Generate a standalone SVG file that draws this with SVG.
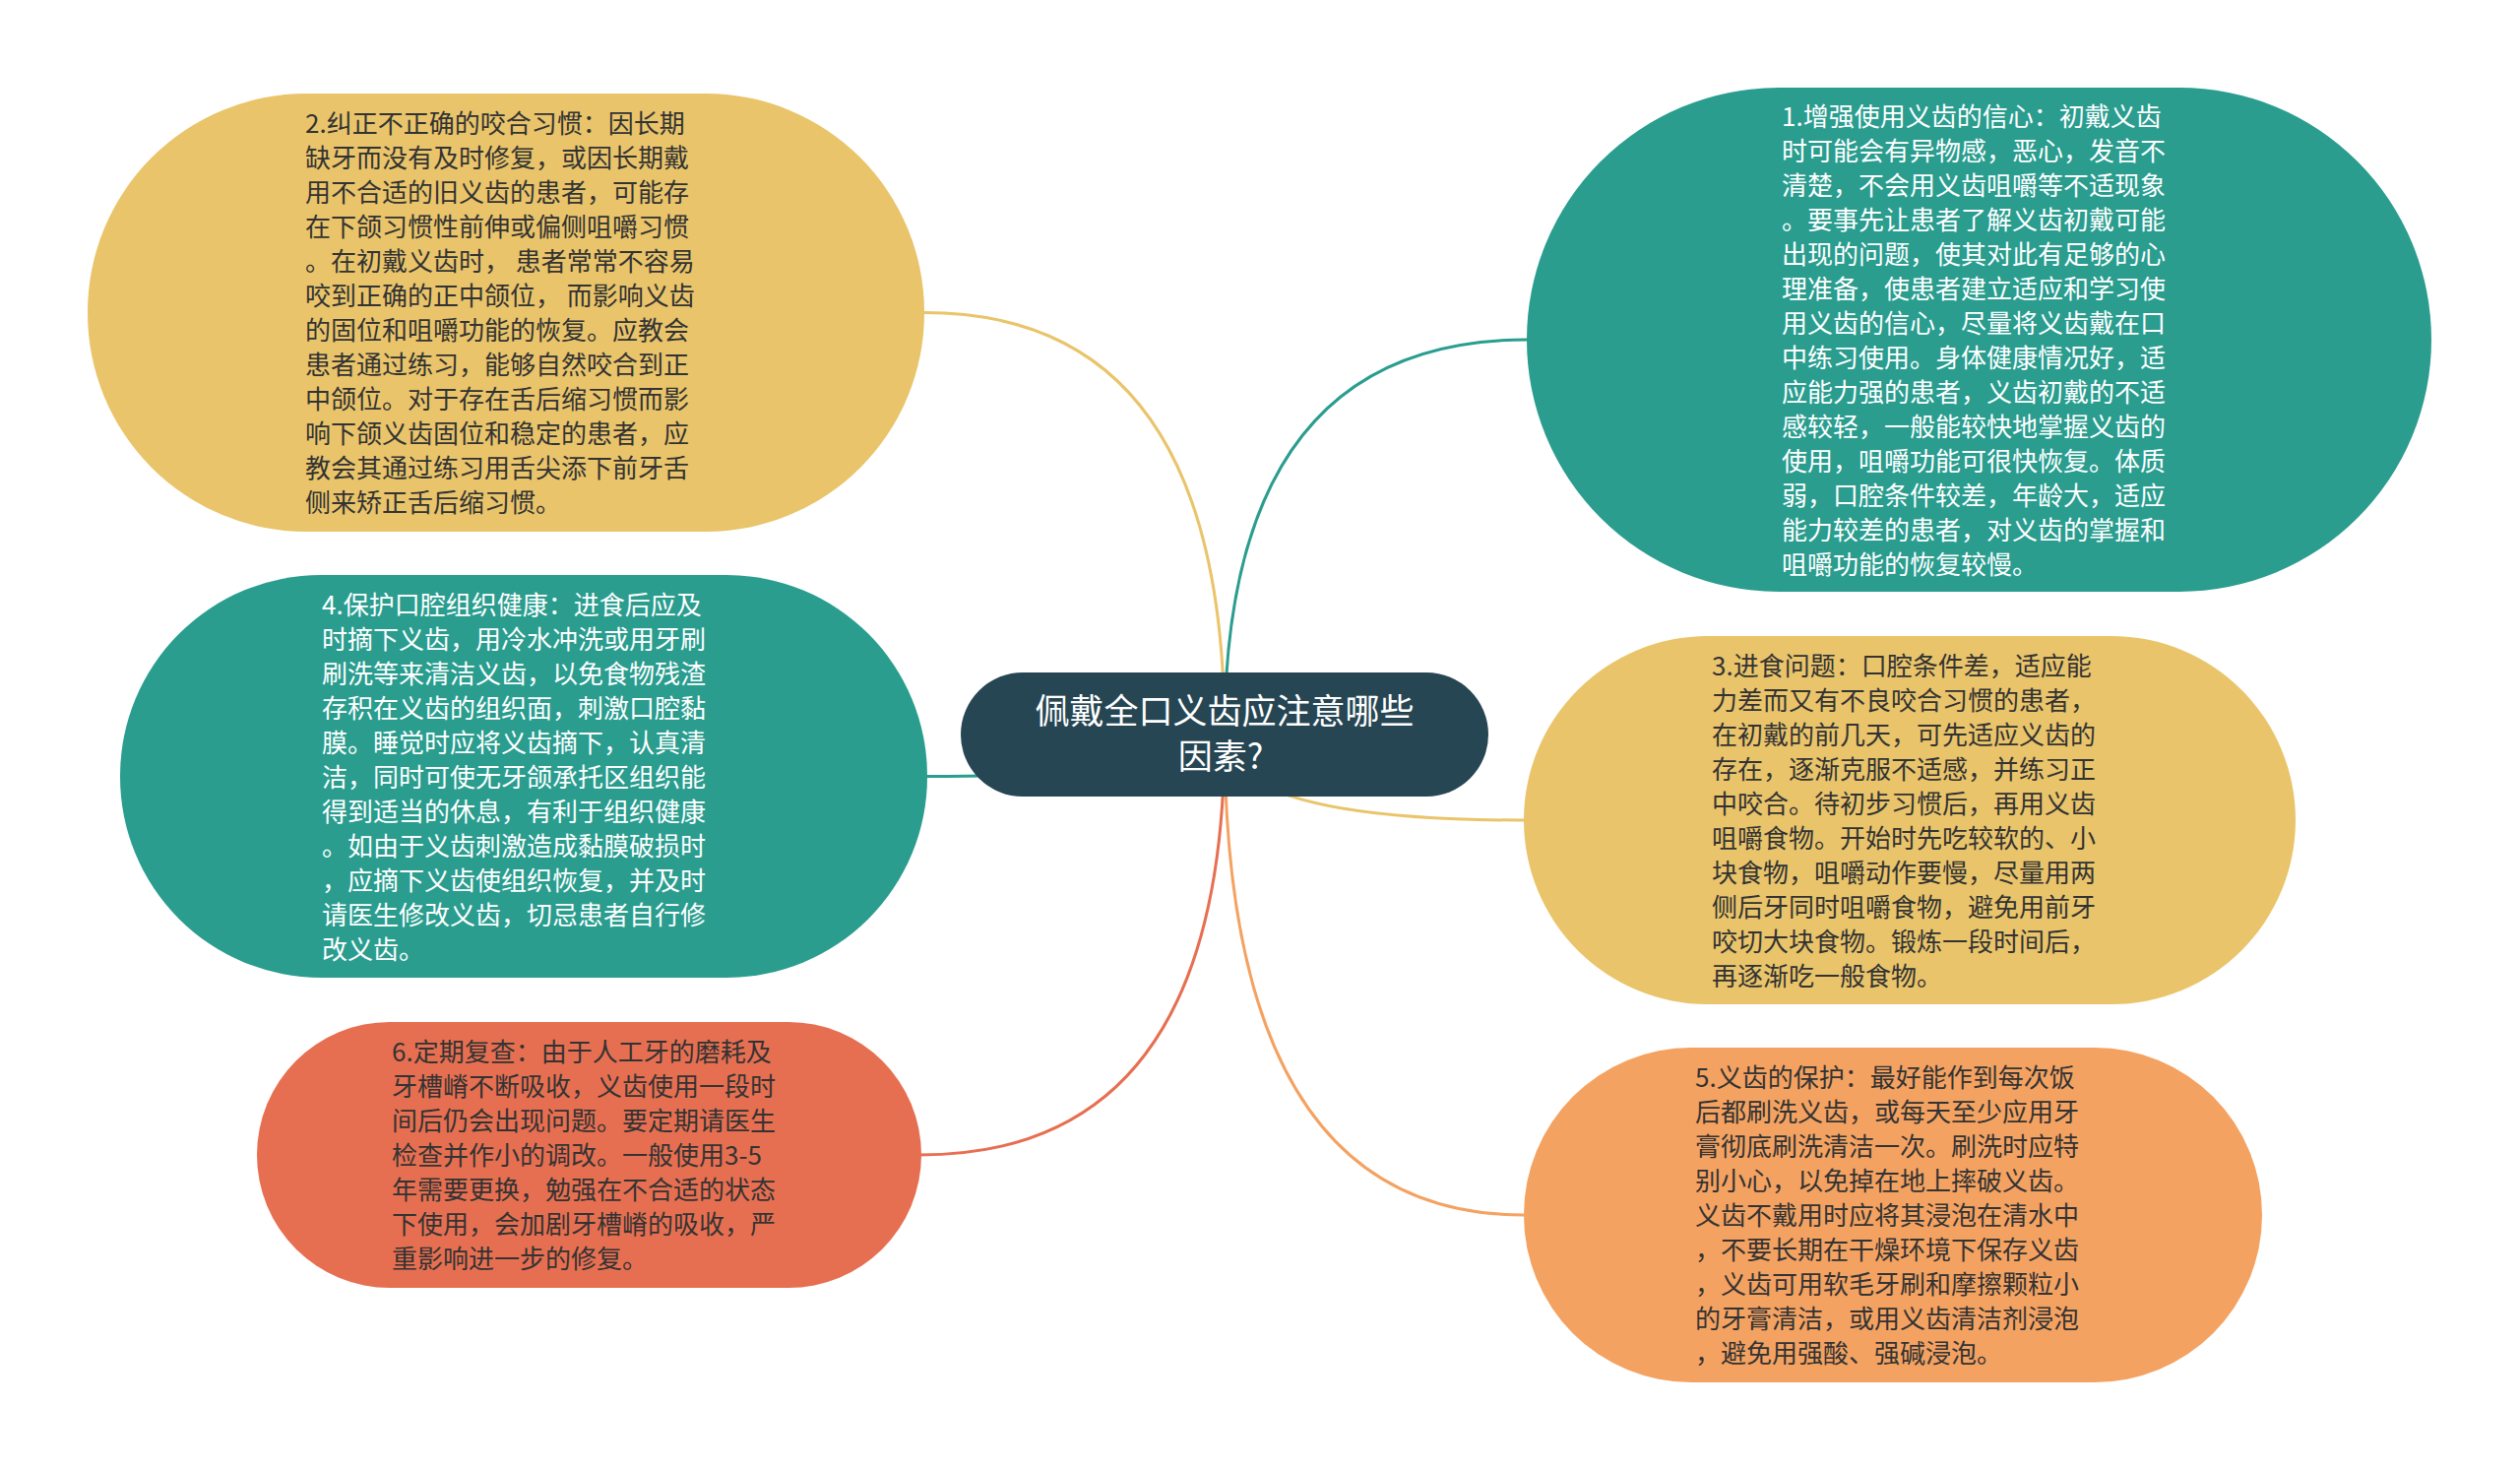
<svg xmlns="http://www.w3.org/2000/svg" width="2560" height="1493" viewBox="0 0 2560 1493">
<style>
.bg{fill:#ffffff}
.edge{fill:none;stroke-width:3}
.t{font-family:"Noto Sans CJK SC","Noto Sans",sans-serif;font-size:26px}
.dark{fill:#333333}
.light{fill:#ffffff}
.root{font-family:"Noto Sans CJK SC","Noto Sans",sans-serif;font-size:35px;fill:#ffffff;text-anchor:middle}
</style>
<rect class="bg" x="0" y="0" width="2560" height="1493"/>
<g id="connectors">
<path class="edge" stroke="#e9c46a" d="M1244,746 Q1244,317.5 939,317.5"/>
<path class="edge" stroke="#2a9d8f" d="M1244,746 Q1244,345 1551,345"/>
<path class="edge" stroke="#2a9d8f" d="M1244,746 Q1244,788.5 942,788.5"/>
<path class="edge" stroke="#e9c46a" d="M1244,746 Q1244,833 1548,833"/>
<path class="edge" stroke="#e76f51" d="M1244,746 Q1244,1173 935,1173"/>
<path class="edge" stroke="#f4a261" d="M1244,746 Q1244,1234 1548,1234"/>
</g>
<g id="root">
<rect x="976" y="683" width="536" height="126" rx="63" fill="#264653"/>
<text class="root" x="1244" y="735">佩戴全口义齿应注意哪些</text>
<text class="root" x="1240" y="781">因素?</text>
</g>
<g id="node2">
<rect x="89" y="95" width="850" height="445" rx="222" fill="#e9c46a"/>
<text class="t dark" x="310" y="135">
<tspan x="310" dy="0">2.纠正不正确的咬合习惯：因长期</tspan>
<tspan x="310" dy="35">缺牙而没有及时修复，或因长期戴</tspan>
<tspan x="310" dy="35">用不合适的旧义齿的患者，可能存</tspan>
<tspan x="310" dy="35">在下颌习惯性前伸或偏侧咀嚼习惯</tspan>
<tspan x="310" dy="35">。在初戴义齿时， 患者常常不容易</tspan>
<tspan x="310" dy="35">咬到正确的正中颌位， 而影响义齿</tspan>
<tspan x="310" dy="35">的固位和咀嚼功能的恢复。应教会</tspan>
<tspan x="310" dy="35">患者通过练习，能够自然咬合到正</tspan>
<tspan x="310" dy="35">中颌位。对于存在舌后缩习惯而影</tspan>
<tspan x="310" dy="35">响下颌义齿固位和稳定的患者，应</tspan>
<tspan x="310" dy="35">教会其通过练习用舌尖添下前牙舌</tspan>
<tspan x="310" dy="35">侧来矫正舌后缩习惯。</tspan>
</text>
</g>
<g id="node1">
<rect x="1551" y="89" width="919" height="512" rx="256" fill="#2a9d8f"/>
<text class="t light" x="1810" y="127.5">
<tspan x="1810" dy="0">1.增强使用义齿的信心：初戴义齿</tspan>
<tspan x="1810" dy="35">时可能会有异物感，恶心，发音不</tspan>
<tspan x="1810" dy="35">清楚，不会用义齿咀嚼等不适现象</tspan>
<tspan x="1810" dy="35">。要事先让患者了解义齿初戴可能</tspan>
<tspan x="1810" dy="35">出现的问题，使其对此有足够的心</tspan>
<tspan x="1810" dy="35">理准备，使患者建立适应和学习使</tspan>
<tspan x="1810" dy="35">用义齿的信心，尽量将义齿戴在口</tspan>
<tspan x="1810" dy="35">中练习使用。身体健康情况好，适</tspan>
<tspan x="1810" dy="35">应能力强的患者，义齿初戴的不适</tspan>
<tspan x="1810" dy="35">感较轻，一般能较快地掌握义齿的</tspan>
<tspan x="1810" dy="35">使用，咀嚼功能可很快恢复。体质</tspan>
<tspan x="1810" dy="35">弱，口腔条件较差，年龄大，适应</tspan>
<tspan x="1810" dy="35">能力较差的患者，对义齿的掌握和</tspan>
<tspan x="1810" dy="35">咀嚼功能的恢复较慢。</tspan>
</text>
</g>
<g id="node4">
<rect x="122" y="584" width="820" height="409" rx="204" fill="#2a9d8f"/>
<text class="t light" x="327" y="624">
<tspan x="327" dy="0">4.保护口腔组织健康：进食后应及</tspan>
<tspan x="327" dy="35">时摘下义齿，用冷水冲洗或用牙刷</tspan>
<tspan x="327" dy="35">刷洗等来清洁义齿，以免食物残渣</tspan>
<tspan x="327" dy="35">存积在义齿的组织面，刺激口腔黏</tspan>
<tspan x="327" dy="35">膜。睡觉时应将义齿摘下，认真清</tspan>
<tspan x="327" dy="35">洁，同时可使无牙颌承托区组织能</tspan>
<tspan x="327" dy="35">得到适当的休息，有利于组织健康</tspan>
<tspan x="327" dy="35">。如由于义齿刺激造成黏膜破损时</tspan>
<tspan x="327" dy="35">，应摘下义齿使组织恢复，并及时</tspan>
<tspan x="327" dy="35">请医生修改义齿，切忌患者自行修</tspan>
<tspan x="327" dy="35">改义齿。</tspan>
</text>
</g>
<g id="node3">
<rect x="1548" y="646" width="784" height="374" rx="187" fill="#e9c46a"/>
<text class="t dark" x="1739" y="685.5">
<tspan x="1739" dy="0">3.进食问题：口腔条件差，适应能</tspan>
<tspan x="1739" dy="35">力差而又有不良咬合习惯的患者，</tspan>
<tspan x="1739" dy="35">在初戴的前几天，可先适应义齿的</tspan>
<tspan x="1739" dy="35">存在，逐渐克服不适感，并练习正</tspan>
<tspan x="1739" dy="35">中咬合。待初步习惯后，再用义齿</tspan>
<tspan x="1739" dy="35">咀嚼食物。开始时先吃较软的、小</tspan>
<tspan x="1739" dy="35">块食物，咀嚼动作要慢，尽量用两</tspan>
<tspan x="1739" dy="35">侧后牙同时咀嚼食物，避免用前牙</tspan>
<tspan x="1739" dy="35">咬切大块食物。锻炼一段时间后，</tspan>
<tspan x="1739" dy="35">再逐渐吃一般食物。</tspan>
</text>
</g>
<g id="node6">
<rect x="261" y="1038" width="675" height="270" rx="135" fill="#e76f51"/>
<text class="t dark" x="398" y="1078">
<tspan x="398" dy="0">6.定期复查：由于人工牙的磨耗及</tspan>
<tspan x="398" dy="35">牙槽嵴不断吸收，义齿使用一段时</tspan>
<tspan x="398" dy="35">间后仍会出现问题。要定期请医生</tspan>
<tspan x="398" dy="35">检查并作小的调改。一般使用3-5</tspan>
<tspan x="398" dy="35">年需要更换，勉强在不合适的状态</tspan>
<tspan x="398" dy="35">下使用，会加剧牙槽嵴的吸收，严</tspan>
<tspan x="398" dy="35">重影响进一步的修复。</tspan>
</text>
</g>
<g id="node5">
<rect x="1548" y="1064" width="750" height="340" rx="170" fill="#f4a261"/>
<text class="t dark" x="1722" y="1104">
<tspan x="1722" dy="0">5.义齿的保护：最好能作到每次饭</tspan>
<tspan x="1722" dy="35">后都刷洗义齿，或每天至少应用牙</tspan>
<tspan x="1722" dy="35">膏彻底刷洗清洁一次。刷洗时应特</tspan>
<tspan x="1722" dy="35">别小心，以免掉在地上摔破义齿。</tspan>
<tspan x="1722" dy="35">义齿不戴用时应将其浸泡在清水中</tspan>
<tspan x="1722" dy="35">，不要长期在干燥环境下保存义齿</tspan>
<tspan x="1722" dy="35">，义齿可用软毛牙刷和摩擦颗粒小</tspan>
<tspan x="1722" dy="35">的牙膏清洁，或用义齿清洁剂浸泡</tspan>
<tspan x="1722" dy="35">，避免用强酸、强碱浸泡。</tspan>
</text>
</g>
</svg>
